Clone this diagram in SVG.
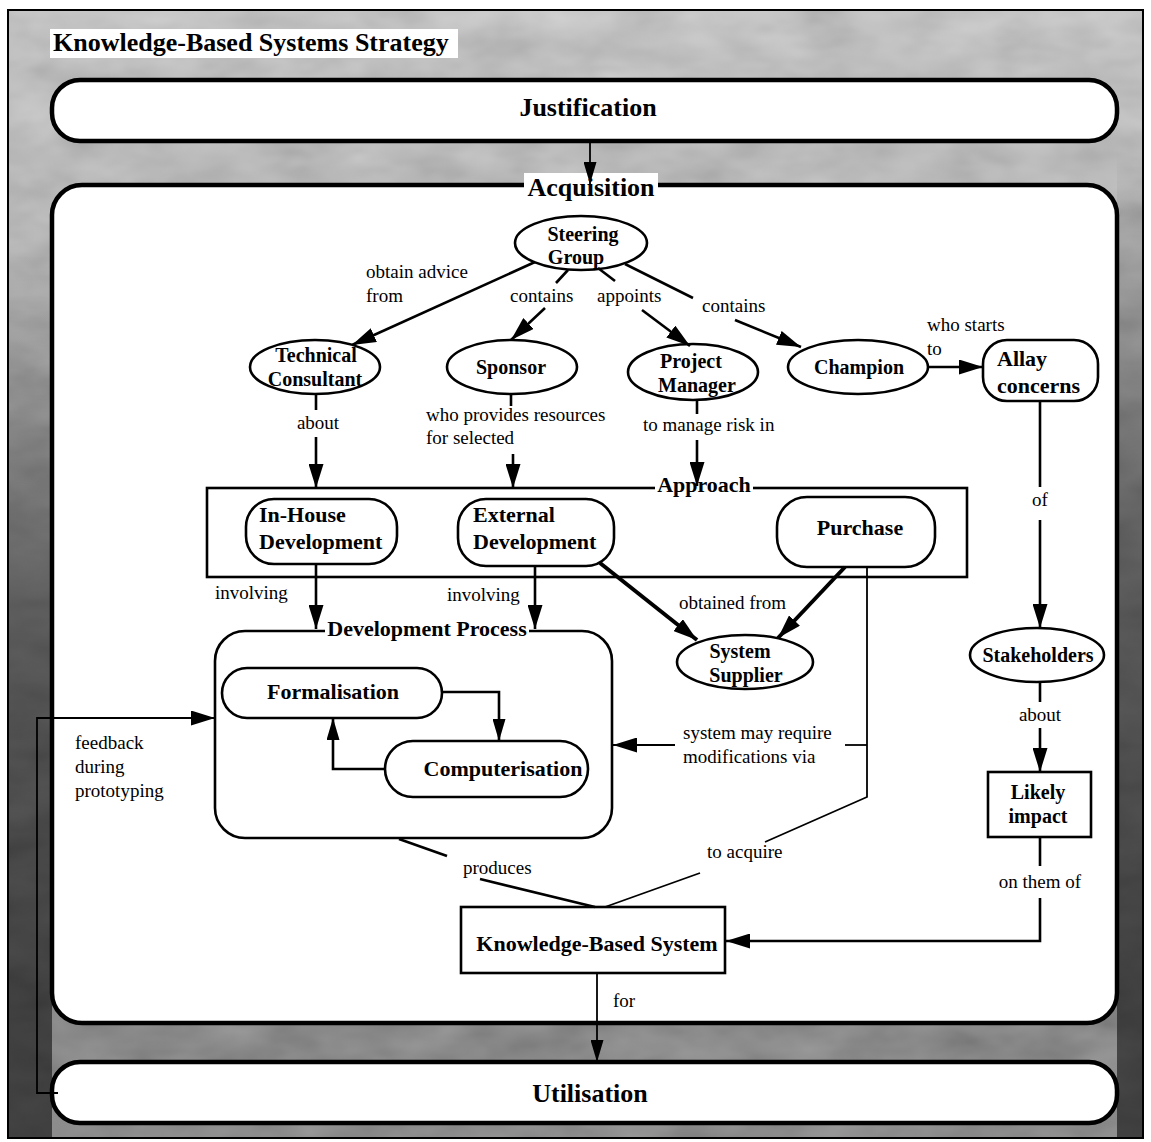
<svg xmlns="http://www.w3.org/2000/svg" width="1151" height="1142" viewBox="0 0 1151 1142">
  <defs>
    <style>
      .node { fill: #ffffff; stroke: #000000; stroke-width: 2.6; }
      .band { fill: #ffffff; stroke: #000000; stroke-width: 4.5; }
      .edge { fill: none; stroke: #000000; stroke-width: 2.6; }
      .thick { fill: none; stroke: #000000; stroke-width: 4; }
      .thin { fill: none; stroke: #000000; stroke-width: 1.8; }
      .nt { font-family: "Liberation Serif", "Times New Roman", serif; font-weight: bold; font-size: 20px; fill: #000; }
      .big { font-family: "Liberation Serif", "Times New Roman", serif; font-weight: bold; font-size: 22px; fill: #000; }
      .hdr { font-family: "Liberation Serif", "Times New Roman", serif; font-weight: bold; font-size: 26px; fill: #000; }
      .lbl { font-family: "Liberation Serif", "Times New Roman", serif; font-size: 19px; fill: #000; }
      .mid { text-anchor: middle; }
    </style>
    <marker id="arrow" markerUnits="userSpaceOnUse" markerWidth="24" markerHeight="15" refX="24" refY="7.5" orient="auto">
      <path d="M0,0 L24,7.5 L0,15 z" fill="#000"/>
    </marker>
    <marker id="arrowS" markerUnits="userSpaceOnUse" markerWidth="22" markerHeight="13" refX="22" refY="6.5" orient="auto">
      <path d="M0,0 L22,6.5 L0,13 z" fill="#000"/>
    </marker>
    <linearGradient id="bgV" x1="0" y1="0" x2="0" y2="1">
      <stop offset="0" stop-color="#c6c6c6"/>
      <stop offset="0.15" stop-color="#b6b6b6"/>
      <stop offset="0.5" stop-color="#9a9a9a"/>
      <stop offset="0.85" stop-color="#666666"/>
      <stop offset="1" stop-color="#6e6e6e"/>
    </linearGradient>
    <linearGradient id="edgeDark" x1="0" y1="0" x2="0" y2="1">
      <stop offset="0" stop-color="#000" stop-opacity="0"/>
      <stop offset="0.4" stop-color="#000" stop-opacity="0.45"/>
      <stop offset="1" stop-color="#000" stop-opacity="0.55"/>
    </linearGradient>
    <filter id="mottle" x="0" y="0" width="100%" height="100%">
      <feTurbulence type="fractalNoise" baseFrequency="0.015 0.03" numOctaves="3" seed="7"/>
      <feColorMatrix type="matrix" values="0.33 0.33 0.33 0 0  0.33 0.33 0.33 0 0  0.33 0.33 0.33 0 0  0 0 0 0 0.4"/>
    </filter>
  </defs>

  <!-- textured frame -->
  <rect x="0" y="0" width="1151" height="1142" fill="#ffffff"/>
  <rect x="8" y="10" width="1135" height="1128" fill="url(#bgV)"/>
  <rect x="8" y="10" width="1135" height="1128" filter="url(#mottle)"/>
  <rect x="8" y="250" width="44" height="888" fill="url(#edgeDark)"/>
  <rect x="1117" y="150" width="26" height="988" fill="url(#edgeDark)"/>
  <rect x="8" y="10" width="1135" height="1128" fill="none" stroke="#000" stroke-width="2"/>

  <!-- title -->
  <g id="title">
    <rect x="50" y="29" width="408" height="29" fill="#ffffff"/>
    <text class="hdr" x="53" y="51" font-size="26.5">Knowledge-Based Systems Strategy</text>
  </g>

  <!-- stage bands -->
  <g id="justification">
    <rect class="band" x="52" y="80" width="1065" height="61" rx="28"/>
    <text class="hdr mid" x="588" y="116">Justification</text>
  </g>
  <g id="acquisition">
    <rect class="band" x="52" y="185" width="1065" height="838" rx="30"/>
    <rect x="524" y="173" width="134" height="27" fill="#ffffff"/>
    <text class="hdr mid" x="591" y="196">Acquisition</text>
  </g>
  <g id="utilisation">
    <rect class="band" x="52" y="1062" width="1065" height="61" rx="28"/>
    <text class="hdr mid" x="590" y="1102">Utilisation</text>
  </g>

  <!-- containers -->
  <g id="approach">
    <rect x="207" y="488" width="760" height="89" fill="none" stroke="#000" stroke-width="2.6"/>
    <rect x="655" y="474" width="98" height="22" fill="#ffffff"/>
    <text class="big mid" x="704" y="492">Approach</text>
  </g>
  <g id="development-process">
    <rect class="node" x="215" y="631" width="397" height="207" rx="30"/>
    <rect x="325" y="617" width="204" height="22" fill="#ffffff"/>
    <text class="big mid" x="427" y="636">Development Process</text>
  </g>

  <!-- nodes -->
  <g id="steering-group">
    <ellipse class="node" cx="581" cy="243" rx="66" ry="27"/>
    <text class="nt mid" x="583" y="241">Steering</text>
    <text class="nt mid" x="576" y="264">Group</text>
  </g>
  <g id="technical-consultant">
    <ellipse class="node" cx="315" cy="367" rx="65" ry="27"/>
    <text class="nt mid" x="316" y="362">Technical</text>
    <text class="nt mid" x="315" y="386">Consultant</text>
  </g>
  <g id="sponsor">
    <ellipse class="node" cx="512" cy="367" rx="65" ry="27"/>
    <text class="nt mid" x="511" y="374">Sponsor</text>
  </g>
  <g id="project-manager">
    <ellipse class="node" cx="693" cy="372" rx="65" ry="28"/>
    <text class="nt mid" x="691" y="368">Project</text>
    <text class="nt mid" x="697" y="392">Manager</text>
  </g>
  <g id="champion">
    <ellipse class="node" cx="858" cy="367" rx="70" ry="27"/>
    <text class="nt mid" x="859" y="374">Champion</text>
  </g>
  <g id="allay-concerns">
    <rect class="node" x="983" y="340" width="115" height="61" rx="24"/>
    <text class="big" x="997" y="366">Allay</text>
    <text class="big" x="997" y="393">concerns</text>
  </g>
  <g id="in-house-development">
    <rect class="node" x="246" y="499" width="151" height="65" rx="28"/>
    <text class="big" x="259" y="522">In-House</text>
    <text class="big" x="259" y="549">Development</text>
  </g>
  <g id="external-development">
    <rect class="node" x="458" y="499" width="156" height="67" rx="28"/>
    <text class="big" x="473" y="522">External</text>
    <text class="big" x="473" y="549">Development</text>
  </g>
  <g id="purchase">
    <rect class="node" x="777" y="497" width="158" height="70" rx="30"/>
    <text class="big mid" x="860" y="535">Purchase</text>
  </g>
  <g id="system-supplier">
    <ellipse class="node" cx="745" cy="662" rx="68" ry="27"/>
    <text class="nt mid" x="740" y="658">System</text>
    <text class="nt mid" x="746" y="682">Supplier</text>
  </g>
  <g id="formalisation">
    <rect class="node" x="222" y="668" width="220" height="50" rx="25"/>
    <text class="big mid" x="333" y="699" font-size="21.5">Formalisation</text>
  </g>
  <g id="computerisation">
    <rect class="node" x="385" y="741" width="203" height="56" rx="28"/>
    <text class="big mid" x="503" y="776" font-size="21.5">Computerisation</text>
  </g>
  <g id="knowledge-based-system">
    <rect class="node" x="461" y="907" width="264" height="66"/>
    <text class="big mid" x="597" y="951">Knowledge-Based System</text>
  </g>
  <g id="stakeholders">
    <ellipse class="node" cx="1037" cy="655" rx="67" ry="27"/>
    <text class="nt mid" x="1038" y="662">Stakeholders</text>
  </g>
  <g id="likely-impact">
    <rect class="node" x="988" y="772" width="103" height="65" stroke-width="3"/>
    <text class="nt mid" x="1038" y="799">Likely</text>
    <text class="nt mid" x="1038" y="823">impact</text>
  </g>

  <!-- connectors -->
  <g id="connectors">
    <line class="thin" x1="590" y1="141" x2="590" y2="184" marker-end="url(#arrowS)"/>

    <line class="edge" x1="535" y1="262" x2="352" y2="345" marker-end="url(#arrow)"/>

    <line class="edge" x1="568" y1="270" x2="556" y2="283"/>
    <line class="edge" x1="545" y1="308" x2="511" y2="340" marker-end="url(#arrow)"/>

    <line class="edge" x1="598" y1="268" x2="615" y2="281"/>
    <line class="edge" x1="642" y1="310" x2="690" y2="346" marker-end="url(#arrow)"/>

    <line class="edge" x1="625" y1="264" x2="693" y2="298"/>
    <line class="edge" x1="735" y1="320" x2="801" y2="347" marker-end="url(#arrow)"/>

    <line class="edge" x1="928" y1="367" x2="983" y2="367" marker-end="url(#arrow)"/>

    <line class="edge" x1="316" y1="394" x2="316" y2="410"/>
    <line class="edge" x1="316" y1="437" x2="316" y2="488" marker-end="url(#arrow)"/>

    <line class="edge" x1="511" y1="394" x2="511" y2="406"/>
    <line class="edge" x1="513" y1="454" x2="513" y2="488" marker-end="url(#arrow)"/>

    <line class="edge" x1="697" y1="400" x2="697" y2="414"/>
    <line class="edge" x1="697" y1="440" x2="697" y2="486" marker-end="url(#arrow)"/>

    <line class="edge" x1="316" y1="564" x2="316" y2="629" marker-end="url(#arrow)"/>
    <line class="edge" x1="535" y1="566" x2="535" y2="629" marker-end="url(#arrow)"/>

    <line class="thick" x1="600" y1="563" x2="697" y2="640" marker-end="url(#arrow)"/>
    <line class="thick" x1="845" y1="567" x2="778" y2="638" marker-end="url(#arrow)"/>

    <polyline class="thin" points="867,567 867,797 765,842"/>
    <line class="thin" x1="700" y1="873" x2="605" y2="907"/>
    <line class="thin" x1="867" y1="745" x2="845" y2="745"/>
    <line class="thin" x1="675" y1="745" x2="613" y2="745" marker-end="url(#arrow)"/>

    <polyline class="edge" points="442,692 499,692 499,741" marker-end="url(#arrowS)"/>
    <polyline class="edge" points="385,769 333,769 333,718" marker-end="url(#arrowS)"/>

    <line class="edge" x1="399" y1="839" x2="447" y2="856"/>
    <line class="edge" x1="480" y1="879" x2="595" y2="907"/>

    <line class="thin" x1="597" y1="973" x2="597" y2="1062" marker-end="url(#arrowS)"/>

    <line class="edge" x1="1040" y1="401" x2="1040" y2="487"/>
    <line class="edge" x1="1040" y1="520" x2="1040" y2="628" marker-end="url(#arrow)"/>

    <line class="edge" x1="1040" y1="682" x2="1040" y2="702"/>
    <line class="edge" x1="1040" y1="728" x2="1040" y2="772" marker-end="url(#arrow)"/>

    <line class="edge" x1="1040" y1="837" x2="1040" y2="866"/>
    <polyline class="edge" points="1040,898 1040,941 726,941" marker-end="url(#arrow)"/>

    <polyline class="thin" points="58,1093 37,1093 37,718 215,718" marker-end="url(#arrow)"/>

    <!-- connector labels -->
    <text class="lbl" x="366" y="278">obtain advice</text>
    <text class="lbl" x="366" y="302">from</text>
    <text class="lbl" x="510" y="302">contains</text>
    <text class="lbl" x="597" y="302">appoints</text>
    <text class="lbl" x="702" y="312">contains</text>
    <text class="lbl" x="927" y="331">who starts</text>
    <text class="lbl" x="927" y="355">to</text>
    <text class="lbl mid" x="318" y="429">about</text>
    <text class="lbl" x="426" y="421">who provides resources</text>
    <text class="lbl" x="426" y="444">for  selected</text>
    <text class="lbl" x="643" y="431">to manage risk in</text>
    <text class="lbl" x="215" y="599">involving</text>
    <text class="lbl" x="447" y="601">involving</text>
    <text class="lbl" x="679" y="609">obtained from</text>
    <text class="lbl" x="683" y="739">system may require</text>
    <text class="lbl" x="683" y="763">modifications via</text>
    <text class="lbl" x="707" y="858">to acquire</text>
    <text class="lbl" x="463" y="874">produces</text>
    <text class="lbl" x="613" y="1007">for</text>
    <text class="lbl mid" x="1040" y="506">of</text>
    <text class="lbl mid" x="1040" y="721">about</text>
    <text class="lbl mid" x="1040" y="888">on them of</text>
    <text class="lbl" x="75" y="749">feedback</text>
    <text class="lbl" x="75" y="773">during</text>
    <text class="lbl" x="75" y="797">prototyping</text>
  </g>
</svg>
